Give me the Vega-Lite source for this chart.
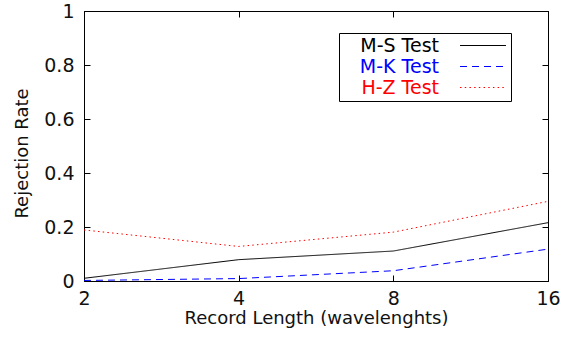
{
  "$schema": "https://vega.github.io/schema/vega-lite/v6.json",
  "autosize": {"type": "none"},
  "width": 464,
  "height": 270,
  "padding": {"left": 84, "top": 11, "right": 14, "bottom": 57},
  "background": "white",
  "config": {
    "font": "DejaVu Sans",
    "view": {"stroke": "black", "strokeWidth": 1},
    "axis": {
      "grid": false,
      "domainColor": "black",
      "tickColor": "black",
      "labelColor": "#111111",
      "titleColor": "#111111",
      "labelFont": "DejaVu Sans",
      "titleFont": "DejaVu Sans",
      "labelFontSize": 19,
      "titleFontSize": 18,
      "titleFontWeight": "normal",
      "tickSize": -6,
      "labelFlush": false,
      "labelOverlap": false
    }
  },
  "data": {
    "values": [
      {"len": 2, "rate": 0.010, "test": "M-S Test"},
      {"len": 4, "rate": 0.079, "test": "M-S Test"},
      {"len": 8, "rate": 0.111, "test": "M-S Test"},
      {"len": 16, "rate": 0.216, "test": "M-S Test"},
      {"len": 2, "rate": 0.002, "test": "M-K Test"},
      {"len": 4, "rate": 0.009, "test": "M-K Test"},
      {"len": 8, "rate": 0.038, "test": "M-K Test"},
      {"len": 16, "rate": 0.118, "test": "M-K Test"},
      {"len": 2, "rate": 0.189, "test": "H-Z Test"},
      {"len": 4, "rate": 0.128, "test": "H-Z Test"},
      {"len": 8, "rate": 0.181, "test": "H-Z Test"},
      {"len": 16, "rate": 0.295, "test": "H-Z Test"}
    ]
  },
  "layer": [
    {
      "mark": {"type": "line", "strokeWidth": 1, "clip": true},
      "encoding": {
        "x": {
          "field": "len", "type": "quantitative",
          "scale": {"type": "log", "base": 2, "domain": [2, 16], "nice": false},
          "axis": {
            "orient": "bottom",
            "values": [2, 4, 8, 16],
            "format": "d",
            "labelPadding": 14,
            "title": "Record Length (wavelenghts)",
            "titleBaseline": "alphabetic",
            "titleY": 42,
            "titleX": 232
          }
        },
        "y": {
          "field": "rate", "type": "quantitative",
          "scale": {"domain": [0, 1], "nice": false},
          "axis": {
            "orient": "left",
            "values": [0, 0.2, 0.4, 0.6, 0.8, 1],
            "format": "~g",
            "labelPadding": 16,
            "title": "Rejection Rate",
            "titleAngle": -90,
            "titleBaseline": "alphabetic",
            "titleAlign": "center",
            "titleX": -57,
            "titleY": 142
          }
        },
        "color": {
          "field": "test", "type": "nominal",
          "scale": {"domain": ["M-S Test", "M-K Test", "H-Z Test"], "range": ["#000000", "#0000ff", "#ff0000"]},
          "legend": {
            "orient": "none",
            "legendX": 255,
            "legendY": 22,
            "title": null,
            "padding": 3,
            "strokeColor": "black",
            "fillColor": "white",
            "labelFont": "DejaVu Sans",
            "labelFontSize": 19,
            "labelAlign": "right",
            "rowPadding": 1,
            "symbolType": "M-4,0H4",
            "symbolSize": 132,
            "symbolStrokeWidth": 1,
            "symbolFillColor": "transparent",
            "encode": {
              "labels": {
                "update": {
                  "x": {"value": 97},
                  "fill": {"signal": "datum.value === 'M-K Test' ? '#0000ff' : datum.value === 'H-Z Test' ? '#ff0000' : '#000000'"}
                }
              },
              "symbols": {
                "update": {"x": {"value": 141}}
              }
            }
          }
        },
        "strokeDash": {
          "field": "test", "type": "nominal",
          "scale": {"domain": ["M-S Test", "M-K Test", "H-Z Test"], "range": [[1, 0], [7, 5], [1.5, 3.2]]},
          "legend": null
        }
      }
    },
    {
      "mark": {"type": "line", "opacity": 0},
      "encoding": {
        "x": {
          "field": "len", "type": "quantitative",
          "scale": {"type": "log", "base": 2, "domain": [2, 16], "nice": false},
          "axis": {"orient": "top", "values": [2, 4, 8, 16], "labels": false, "title": null}
        },
        "y": {
          "field": "rate", "type": "quantitative",
          "scale": {"domain": [0, 1], "nice": false},
          "axis": {"orient": "right", "values": [0, 0.2, 0.4, 0.6, 0.8, 1], "labels": false, "title": null}
        },
        "detail": {"field": "test", "type": "nominal"}
      }
    }
  ],
  "resolve": {"axis": {"x": "independent", "y": "independent"}}
}
